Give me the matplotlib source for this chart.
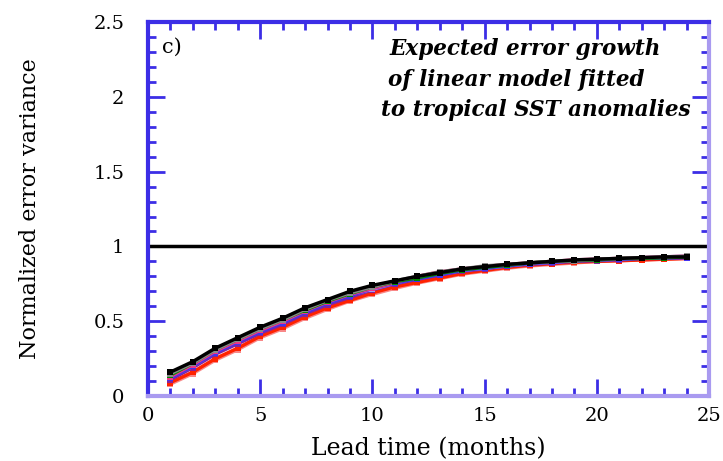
import matplotlib.pyplot as plt
from matplotlib.ticker import MultipleLocator

# lead times (months)
lead = list(range(1, 25))

# normalized error variance, one list per model variant
black = [0.16, 0.23, 0.32, 0.39, 0.46, 0.52, 0.59, 0.645, 0.70, 0.74, 0.77, 0.80,
         0.825, 0.85, 0.865, 0.88, 0.89, 0.90, 0.91, 0.915, 0.92, 0.925, 0.93, 0.93]
gray = [0.15, 0.22, 0.31, 0.38, 0.45, 0.51, 0.58, 0.64, 0.69, 0.73, 0.77, 0.80,
        0.83, 0.85, 0.87, 0.88, 0.89, 0.90, 0.905, 0.915, 0.92, 0.925, 0.93, 0.935]
green = [0.14, 0.22, 0.31, 0.38, 0.45, 0.51, 0.575, 0.635, 0.685, 0.73, 0.765, 0.79,
         0.82, 0.845, 0.86, 0.875, 0.89, 0.90, 0.905, 0.91, 0.92, 0.92, 0.925, 0.93]
pink = [0.13, 0.21, 0.30, 0.37, 0.44, 0.50, 0.57, 0.63, 0.68, 0.72, 0.76, 0.80,
        0.83, 0.85, 0.865, 0.88, 0.89, 0.90, 0.91, 0.915, 0.92, 0.925, 0.93, 0.935]
lilac = [0.125, 0.20, 0.295, 0.365, 0.435, 0.495, 0.565, 0.625, 0.675, 0.715, 0.755, 0.79,
         0.815, 0.84, 0.855, 0.87, 0.885, 0.895, 0.905, 0.91, 0.915, 0.925, 0.93, 0.935]
blue = [0.12, 0.20, 0.29, 0.36, 0.43, 0.49, 0.56, 0.62, 0.67, 0.72, 0.755, 0.785,
        0.81, 0.84, 0.855, 0.87, 0.885, 0.895, 0.905, 0.91, 0.915, 0.92, 0.925, 0.925]
purple = [0.11, 0.19, 0.28, 0.35, 0.42, 0.48, 0.55, 0.61, 0.66, 0.71, 0.75, 0.78,
          0.81, 0.835, 0.85, 0.87, 0.88, 0.89, 0.90, 0.905, 0.91, 0.92, 0.92, 0.925]
red = [0.09, 0.16, 0.25, 0.32, 0.40, 0.46, 0.53, 0.59, 0.64, 0.69, 0.73, 0.76,
       0.79, 0.82, 0.84, 0.86, 0.875, 0.885, 0.895, 0.90, 0.905, 0.91, 0.915, 0.92]
salmon = [0.08, 0.15, 0.24, 0.31, 0.39, 0.45, 0.52, 0.58, 0.635, 0.68, 0.72, 0.755,
          0.785, 0.815, 0.835, 0.855, 0.87, 0.88, 0.89, 0.90, 0.905, 0.91, 0.915, 0.92]

series = [
    (salmon, "#f88888"),
    (red, "#ff2200"),
    (purple, "#882299"),
    (lilac, "#a898f0"),
    (blue, "#4433ee"),
    (pink, "#ee3388"),
    (green, "#008800"),
    (gray, "#888888"),
    (black, "#000000"),
]

_BLUE = "#3c2ee6"
_LIGHT = "#a99af0"

plt.rcParams["font.family"] = ["DejaVu Serif"]

fig = plt.figure(figsize=(7.23, 4.61), dpi=100)
ax = fig.add_axes([0.2047, 0.1410, 0.776, 0.8110])

for vals, col in series:
    ax.plot(lead, vals, color=col, lw=2.5, marker="s", ms=5, mew=0)

ax.axhline(1.0, color="black", lw=2.5)

ax.set_xlim(0, 25)
ax.set_ylim(0, 2.5)
ax.xaxis.set_major_locator(MultipleLocator(5))
ax.xaxis.set_minor_locator(MultipleLocator(1))
ax.yaxis.set_minor_locator(MultipleLocator(0.1))
ax.set_yticks([0, 0.5, 1, 1.5, 2, 2.5], ["0", "0.5", "1", "1.5", "2", "2.5"])

ax.spines["left"].set_color(_BLUE)
ax.spines["top"].set_color(_BLUE)
ax.spines["bottom"].set_color(_LIGHT)
ax.spines["right"].set_color(_LIGHT)
for sp in ax.spines.values():
    sp.set_linewidth(3)
ax.tick_params(which="both", direction="in", top=True, right=True,
               color=_BLUE, width=2)
ax.tick_params(which="major", length=12, labelsize=14)
ax.tick_params(axis="y", which="major", pad=17)
ax.tick_params(axis="x", which="major", pad=8)
ax.tick_params(which="minor", length=6)

ax.set_xlabel("Lead time (months)", fontsize=17, labelpad=9)
ax.set_ylabel("Normalized error variance", fontsize=16, labelpad=38)

ax.text(0.025, 0.917, "c)", transform=ax.transAxes, fontsize=15)
title_lines = [
    (0.431, 0.912, "Expected error growth"),
    (0.427, 0.829, "of linear model fitted"),
    (0.415, 0.749, "to tropical SST anomalies"),
]
for x, y, s in title_lines:
    ax.text(x, y, s, transform=ax.transAxes, fontsize=15.5, style="italic",
            fontweight="bold", ha="left", va="baseline")

fig.savefig("out.png", dpi=100)
